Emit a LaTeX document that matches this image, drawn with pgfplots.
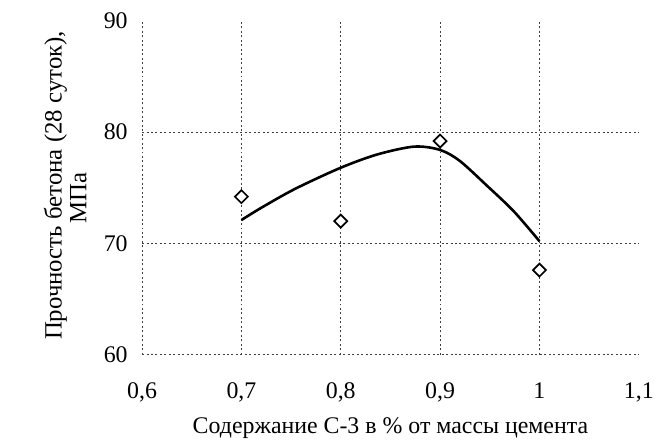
\documentclass[border=0pt]{standalone}
\usepackage{pgfplots}
\pgfplotsset{compat=1.18}
\usepackage{fontspec}
\setmainfont{Liberation Serif}
\begin{document}
\begin{tikzpicture}
  \begin{axis}[
    scale only axis,
    width=500pt, height=336pt,
    xmin=0.6, xmax=1.1,
    ymin=60, ymax=90,
    xtick={0.6,0.7,0.8,0.9,1.0},
    xticklabels={0{,}6,0{,}7,0{,}8,0{,}9,1},
    extra x ticks={1.1},
    extra x tick labels={1{,}1},
    extra x tick style={grid=none},
    ytick={60,70,80},
    extra y ticks={90},
    extra y tick style={grid=none},
    axis line style={draw=none},
    major tick length=0pt,
    /pgf/number format/assume math mode=true,
    tick label style={font=\fontsize{24}{27}\selectfont, text=black},
    yticklabel style={xshift=-11pt},
    xticklabel style={yshift=-25pt},
    grid=major,
    major grid style={draw=black!75, line width=0.7pt, dash pattern=on 2pt off 2.5pt},
    clip=false,
    xlabel={Содержание С-3 в \% от массы цемента},
    xlabel style={font=\fontsize{24}{27}\selectfont, at={(axis description cs:0.5,0)}, anchor=center, yshift=-74pt},
  ]
    % trend curve
    \addplot[black, line width=2.6pt, smooth, tension=0.5] coordinates {
      (0.70,72.1) (0.72,73.2) (0.754,74.9) (0.80,76.8) (0.837,78.0)
      (0.874,78.7) (0.90,78.4) (0.92,77.4) (0.947,75.2) (0.974,72.9) (1.00,70.2)
    };
    % measured points
    \addplot[only marks, mark=square*, mark size=4.6pt,
      mark options={draw=black, fill=white, line width=1.7pt, rotate=45}] coordinates {
      (0.7,74.2) (0.8,72.0) (0.9,79.2) (1.0,67.6)
    };
    % y label, two lines
    \node[rotate=90, anchor=base, inner sep=0pt, font=\fontsize{25}{28}\selectfont]
      at (axis description cs:-0.162,0.507) {Прочность бетона (28 суток),};
    \node[rotate=90, anchor=base, inner sep=0pt, font=\fontsize{25}{28}\selectfont]
      at (axis description cs:-0.112,0.47) {МПа};
    % empty margins of the scan
    \path ([yshift=21pt]axis description cs:-0.286,1) ([yshift=-93pt]axis description cs:-0.286,0);
  \end{axis}
\end{tikzpicture}
\end{document}
